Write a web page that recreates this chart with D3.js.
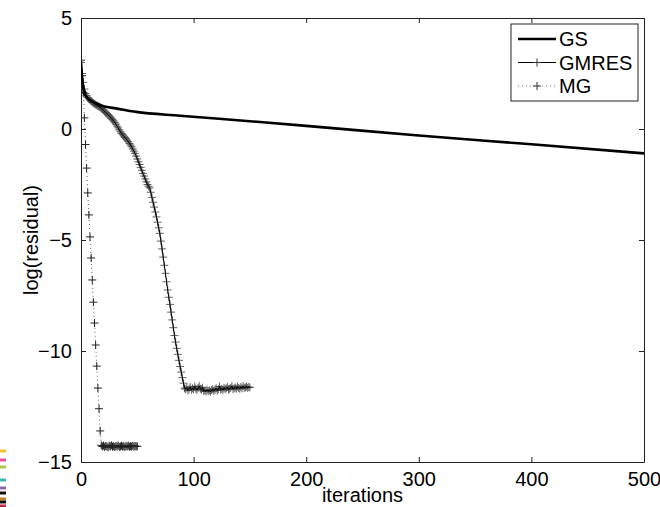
<!DOCTYPE html>
<html>
<head>
<meta charset="utf-8">
<script src="https://cdn.jsdelivr.net/npm/d3@7"></script>
<style>
  body { margin: 0; background: #fff; }
  text { font-family: "Liberation Sans", Arial, sans-serif; }
</style>
</head>
<body>
<div id="placeholder"></div>
<script>
var gsIters  = [0, 1, 2, 3, 4, 6, 8, 13, 17, 22, 31, 49, 88, 150, 200, 300, 400, 500];
var gsValues = [3.05, 2.3, 1.85, 1.6, 1.5, 1.38, 1.3, 1.17, 1.08, 1.0, 0.93, 0.77, 0.6, 0.35, 0.14, -0.29, -0.69, -1.1];

// GMRES: one value per iteration, 0..150
var gmresValues = [
  3.0, 2.5, 2.1, 1.8, 1.6, 1.5, 1.42, 1.36, 1.3, 1.25,
  1.2, 1.17, 1.13, 1.1, 1.07, 1.04, 1.01, 0.98, 0.93, 0.89,
  0.85, 0.8, 0.74, 0.69, 0.64, 0.59, 0.54, 0.48, 0.42, 0.36,
  0.3, 0.22, 0.13, 0.05, -0.04, -0.13, -0.2, -0.26, -0.32, -0.38,
  -0.44, -0.5, -0.57, -0.65, -0.72, -0.8, -0.9, -1.0, -1.1, -1.22,
  -1.35, -1.48, -1.6, -1.73, -1.86, -2.0, -2.12, -2.25, -2.38, -2.5,
  -2.58, -2.65, -2.85, -3.08, -3.3, -3.52, -3.74, -3.96, -4.2, -4.45,
  -4.7, -5.05, -5.4, -5.77, -6.14, -6.5, -6.88, -7.25, -7.58, -7.9,
  -8.25, -8.6, -8.95, -9.3, -9.6, -9.88, -10.15, -10.42, -10.7, -10.95,
  -11.2, -11.45, -11.68, -11.72, -11.65, -11.78, -11.7, -11.62, -11.75, -11.68,
  -11.73, -11.6, -11.7, -11.76, -11.66, -11.58, -11.7, -11.74, -11.65, -11.8,
  -11.78, -11.82, -11.75, -11.8, -11.77, -11.83, -11.76, -11.72, -11.8, -11.74,
  -11.68, -11.78, -11.72, -11.6, -11.74, -11.7, -11.76, -11.66, -11.72, -11.68,
  -11.62, -11.74, -11.7, -11.66, -11.58, -11.72, -11.68, -11.64, -11.7, -11.6,
  -11.66, -11.7, -11.62, -11.68, -11.58, -11.66, -11.64, -11.6, -11.66, -11.62,
  -11.64
];

// MG: one value per iteration, 0..50
var mgValues = [
  3.1, 2.4, 1.65, 0.5, -0.7, -1.76, -2.88, -3.87, -4.86, -5.81,
  -6.8, -7.8, -8.74, -9.73, -10.68, -11.67, -12.6, -13.6, -14.25, -14.3,
  -14.26, -14.32, -14.28, -14.3, -14.34, -14.27, -14.3, -14.25, -14.31, -14.29,
  -14.33, -14.28, -14.3, -14.26, -14.32, -14.3, -14.27, -14.31, -14.29, -14.33,
  -14.28, -14.3, -14.26, -14.32, -14.29, -14.3, -14.27, -14.31, -14.28, -14.3,
  -14.29
];

var xTicks = [0, 100, 200, 300, 400, 500];
var yTicks = [-15, -10, -5, 0, 5];
var seriesNames = ["GS", "GMRES", "MG"];

var W = 660, H = 507;
var margin = { top: 18, right: 16, bottom: 45, left: 81 },
    width = W - margin.left - margin.right,
    height = H - margin.top - margin.bottom;

var root = d3.select("#placeholder").append("svg")
    .attr("width", W).attr("height", H);

// stray colour marks at the left edge of the screenshot
var stripes = [["#f4c430", 451], ["#ec4c9c", 460], ["#a9c94a", 467], ["#3cb9b2", 480],
               ["#8a6aa8", 488], ["#111", 493], ["#c7822a", 499], ["#111", 502], ["#c0264a", 506]];
root.selectAll(".stripe").data(stripes).enter().append("rect")
    .attr("x", 0).attr("y", function (d) { return d[1] - 1.5 })
    .attr("width", 6).attr("height", 3)
    .attr("fill", function (d) { return d[0] });

var svg = root.append("g")
    .attr("transform", "translate(" + margin.left + "," + margin.top + ")");

var x = d3.scaleLinear().domain([0, 500]).range([0, width]);
var y = d3.scaleLinear().domain([-15, 5]).range([height, 0]);

svg.append("defs").append("clipPath").attr("id", "clip")
  .append("rect").attr("width", width).attr("height", height);

// axes (MATLAB style: ticks inward on all sides)
var tk = 5;
svg.append("g").attr("transform", "translate(0," + height + ")")
    .call(d3.axisBottom(x).tickValues(xTicks).tickSizeInner(-tk).tickSizeOuter(0).tickPadding(10).tickFormat(d3.format("d")));
svg.append("g")
    .call(d3.axisTop(x).tickValues(xTicks).tickSizeInner(-tk).tickSizeOuter(0).tickFormat(""));
svg.append("g")
    .call(d3.axisLeft(y).tickValues(yTicks).tickSizeInner(-tk).tickSizeOuter(0).tickPadding(9)
      .tickFormat(function (d) { return d < 0 ? "\u2212" + Math.abs(d) : d }));
svg.append("g").attr("transform", "translate(" + width + ",0)")
    .call(d3.axisRight(y).tickValues(yTicks).tickSizeInner(-tk).tickSizeOuter(0).tickFormat(""));

svg.selectAll(".domain").attr("stroke", "#222");
svg.selectAll(".tick line").attr("stroke", "#222");
svg.selectAll(".tick text").attr("font-size", "20px").attr("fill", "#000")
    .attr("font-family", "Liberation Sans, Arial, sans-serif");

// axis labels
svg.append("text")
    .attr("x", width / 2).attr("y", height + 40)
    .attr("text-anchor", "middle").attr("font-size", "20px")
    .text("iterations");
svg.append("text")
    .attr("transform", "translate(-43," + (height / 2) + ") rotate(-90)")
    .attr("text-anchor", "middle").attr("font-size", "20px")
    .text("log(residual)");

var plot = svg.append("g").attr("clip-path", "url(#clip)");
var line = d3.line().x(function (d) { return x(d[0]) }).y(function (d) { return y(d[1]) });

function plus(sel, cx, cy, r) {
  sel.append("path")
    .attr("d", "M" + (cx - r) + "," + cy + "H" + (cx + r) + "M" + cx + "," + (cy - r) + "V" + (cy + r));
}

// MG: dotted line with + markers
var mgPts = mgValues.map(function (v, i) { return [i, v] });
plot.append("path").datum(mgPts)
    .attr("fill", "none").attr("stroke", "#666").attr("stroke-width", 1)
    .attr("stroke-dasharray", "1,3").attr("d", line);
var mgMarks = plot.append("g").attr("stroke", "#222").attr("stroke-width", 1).attr("fill", "none");
mgPts.forEach(function (d) { plus(mgMarks, x(d[0]), y(d[1]), 4) });

// GMRES: thin solid line with + markers
var gmPts = gmresValues.map(function (v, i) { return [i, v] });
var gmMarks = plot.append("g").attr("stroke", "#333").attr("stroke-opacity", 0.75)
    .attr("stroke-width", 1).attr("fill", "none");
gmPts.forEach(function (d) { plus(gmMarks, x(d[0]), y(d[1]), 4) });
plot.append("path").datum(gmPts)
    .attr("fill", "none").attr("stroke", "#000").attr("stroke-width", 1).attr("d", line);

// GS: thick solid line
var gsPts = gsIters.map(function (t, i) { return [t, gsValues[i]] });
plot.append("path").datum(gsPts)
    .attr("fill", "none").attr("stroke", "#000").attr("stroke-width", 2.6)
    .attr("d", d3.line().curve(d3.curveMonotoneX).x(function (d) { return x(d[0]) }).y(function (d) { return y(d[1]) }));

// legend
var lg = svg.append("g").attr("transform", "translate(" + (511 - margin.left) + "," + (24 - margin.top) + ")");
lg.append("rect").attr("width", 127).attr("height", 77)
    .attr("fill", "#fff").attr("stroke", "#222").attr("stroke-width", 1);
seriesNames.forEach(function (name, i) {
  var ly = 15 + i * 23.5;
  var l = lg.append("line").attr("x1", 7).attr("x2", 45).attr("y1", ly).attr("y2", ly)
      .attr("stroke", i == 2 ? "#777" : "#000")
      .attr("stroke-width", i == 0 ? 2.6 : 1);
  if (i == 2) l.attr("stroke-dasharray", "1,3");
  if (i > 0) {
    var m = lg.append("g").attr("stroke", "#333").attr("stroke-width", 1);
    plus(m, 26, ly, 4);
  }
  lg.append("text").attr("x", 48).attr("y", ly + 7)
      .attr("font-size", "20px").text(name);
});
</script>
</body>
</html>
